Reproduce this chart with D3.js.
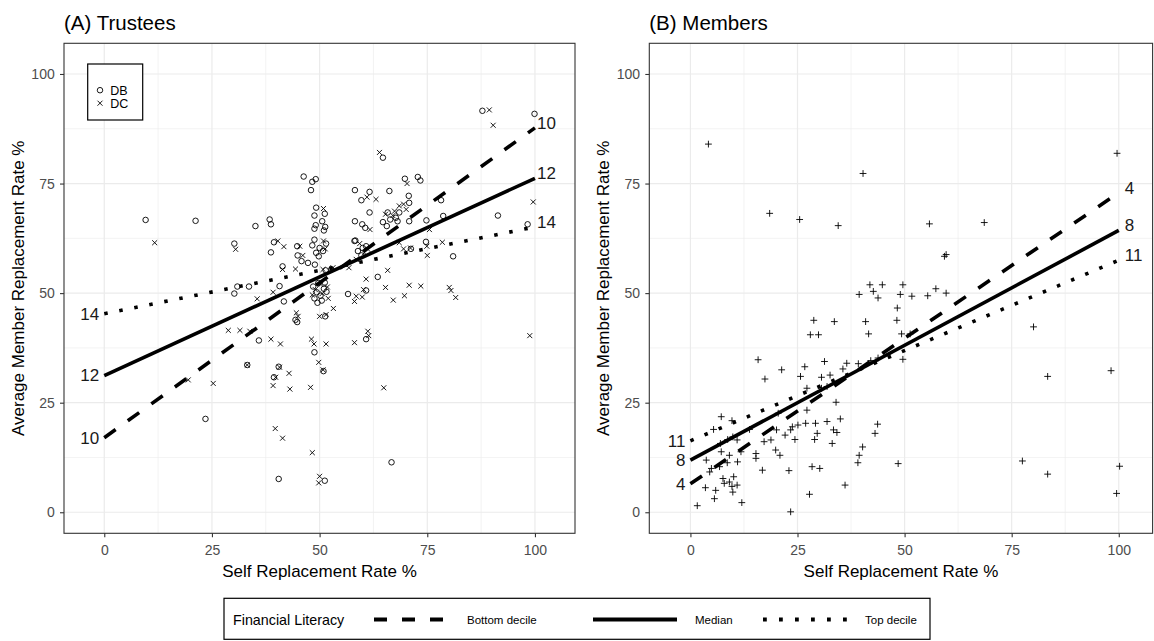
<!DOCTYPE html>
<html>
<head>
<meta charset="utf-8">
<script src="https://cdn.jsdelivr.net/npm/d3@7"></script>
<style>
  body { margin: 0; background: #fff; }
  svg { display: block; font-family: "Liberation Sans", Arial, Helvetica, sans-serif; }
</style>
</head>
<body>
<script>
// ---- data ----
const xTicks = [0, 25, 50, 75, 100]
const yTicks = [0, 25, 50, 75, 100]
const minorTicks = [12.5, 37.5, 62.5, 87.5]

const fitLevels = ['Bottom decile', 'Median', 'Top decile']

const trusteeFitLabels = ['10', '12', '14']
const trusteeFitAt0 = [17.0, 31.2, 45.3]
const trusteeFitAt100 = [87.7, 76.2, 65.1]

const memberFitLabels = ['4', '8', '11']
const memberFitAt0 = [6.5, 11.9, 16.3]
const memberFitAt100 = [72.9, 64.3, 57.5]

const schemeTypes = ['DB', 'DC']

const trusteeDB = [
  [9.6,66.7],[21.2,66.5],[35.1,65.3],[38.4,66.8],[38.7,65.7],[30.2,61.3],[38.7,59.3],[39.4,61.6],[44.8,60.7],[44.9,58.6],
  [45.8,57.3],[47.3,56.9],[48.9,56.5],[41.4,56.1],[30.9,51.5],[33.6,51.5],[40.7,51.6],[30.2,49.9],[41.7,48.1],
  [46.3,76.6],[48.3,75.4],[49.1,76],[48,73.5],[58.2,73.5],[58.2,66.4],[58.3,62],
  [87.8,91.6],[99.9,90.9],[64.7,80.9],[61.6,73.1],[59.7,71.2],[66.2,73.3],[69.8,76.1],[72.8,76.5],[73.4,75.7],[70.7,72.2],
  [70.8,70.6],[61.6,68.4],[78.2,71.2],[78.7,67.6],[74.8,66.6],[91.4,67.7],[98.3,65.7],[74.7,61.7],[81,58.4],[71.2,60.1],[63.5,53.7],
  [44.4,43.9],[44.8,43.4],[51.3,44.7],[56.6,49.8],[35.9,39.2],[48.8,36.5],[50.9,32.2],[33.2,33.6],[39.4,30.8],[40.5,33.2],
  [23.5,21.3],[40.5,7.6],[51.2,7.2],[60.8,50.6],[60.8,39.5],[66.7,11.4],
  [49.2,69.5],[48.8,67.7],[51.2,68.1],[50.6,66.4],[49.1,65.5],[51.3,65.1],[51,64.3],[48.8,64.7],[48.8,62.2],[51.5,61.3],
  [48.3,60.9],[50,60.3],[49.2,59.2],[50.8,59.6],[49.8,58.4],[59.9,65.7],[60.6,64.9],
  [64.7,66.2],[65.8,68.4],[66.4,66.8],[67.7,67.2],[68.1,66.4],[68.5,68.4],[65.6,65.3],[70.8,66.4],
  [58.1,61.9],[60,60.3],[60.8,60.7],[58.9,59.6],[59.7,58.6],
  [48.5,51.5],[49.3,50.2],[50.2,49.4],[51,51],[49.7,52.3],[48.8,48.8],[51.6,50.3],[50.5,48.3],[49.5,47.8],[51.2,52.4],
  [52.7,55.4],[51.4,55.2]
]

const trusteeDC = [
  [11.7,61.5],[30.5,60],[40.3,61.9],[41.7,60.6],[46.1,58.6],[41.4,55.4],[44.4,55.5],[45.4,60.7],
  [89.4,91.8],[90.3,88.3],[63.9,82.1],[61,71.9],[63.1,71.4],[70.3,75],[68.5,69.9],[69.5,70.3],[75.5,64.5],[99.6,70.8],
  [74.9,60.7],[75,58.6],[78.5,61.6],[71.1,60.3],[68.5,61.5],[69.5,60.1],[56.8,55.8],[60.8,53.2],[65.8,55.2],[70.8,51.8],
  [73.5,51.6],[80.1,51.3],[65.3,51.3],
  [39.2,50.2],[35.5,48.7],[44.6,45.5],[45,44.7],[50,44.7],[53.2,46.5],[58.1,48.1],[28.8,41.5],[31.5,41.5],[33.8,41.3],
  [38.7,39.5],[40.9,38.4],[48.1,39.5],[48.7,38.4],[51.5,38.4],[58.1,38.7],[49.8,34.2],[50.8,32.5],[33.2,33.6],[39.8,30.8],
  [40.7,33.1],[42.9,31.7],[39.2,28.9],[43.1,28.1],[47.9,28.5],[25.3,29.4],[19.5,30.2],[39.7,19.1],[41.4,16.9],[48.3,13.6],
  [50,8.2],[49.8,6.7],
  [58.5,49.3],[59.9,49.1],[60.2,50.8],[67.1,48.4],[69.7,49.4],[81.6,49],[80.5,50.6],[61.2,41.3],[61.4,40.3],[64.9,28.4],[98.8,40.3],
  [50.9,69.3],[50.9,61.9],[51.3,60.1],[61.7,64.5],[51.5,45.1],[50.8,55.4],[53.1,55.8],
  [65.3,68],[67,67.7],[67.4,68.7],[70.1,69.1],[59.3,61.3],[60.4,59.2],[61.2,60],[58.5,57.7],
  [49,50.8],[50.6,49.9],[51.8,51.4],[48.3,49.6],[50.3,52],[52,48.8]
]

const memberPoints = [
  [1.6,1.5],[5.6,3.1],[5.9,5],[3.5,5.6],[7.9,6.6],[7.6,7.7],[9.9,4.6],[9.7,5.9],[9.1,6.9],[10.1,8.1],[10.9,6.2],[12,2.2],
  [3.7,11.9],[4.9,10],[4.5,9.2],[6.8,10.4],[8.6,11.3],[9.1,13],[11,11.5],[11.8,13.8],[7.2,13.8],[7,15.7],[8.7,16.6],
  [10.9,16.5],[9.9,17.2],[5.4,18.9],[7.2,21.8],[9.7,20.9],[15.3,13.4],[15.3,12.3],[13.8,18.9],[15.8,34.8],[17.4,30.4],
  [21.3,32.5],[16.8,9.6],[17.2,16.1],[18.8,16.5],[20.1,18.8],[19.9,14.2],[20.9,13],[23,9.5],[23.4,0.1],[22.1,17.6],
  [23.4,18.8],[23.8,19.5],[25.1,19.9],[24.4,16.6],[26.9,20.3],[29.2,20.3],[29.6,18],[29,16.6],[27.2,23.3],[20.5,22.6],
  [25.7,31],[26.7,33.2],[27.2,28.3],[28.4,10.4],[30.2,10],[27.8,4.1],[31.9,20.7],[33.4,18.8],[34.2,18.2],[33.1,15.7],
  [35,21.3],[34,25.1],[30.6,30.8],[32.6,31.3],[31.3,34.4],[30.6,28.3],[31.9,28.7],[28.8,43.8],[33.6,43.5],[28,40.5],
  [29.9,40.5],[36.1,6.2],[36.5,34],[35.6,32.7],[39.2,33.9],[40.9,43.5],[39.4,49.7],[41.9,51.9],[42.7,50.4],[43.8,48.9],
  [44.8,51.9],[41.6,40.7],[39.1,11.3],[39.4,13],[40.2,14.9],[43.1,18],[43.7,20.1],[48.5,11.1],[49.6,51.9],[49,49.7],
  [48.3,46.6],[48.2,43.8],[49.3,40.7],[49.6,34.9],[42.1,34.6],[43.8,35.2],
  [99.6,81.9],[55.8,65.8],[68.6,66.1],[59.3,58.4],[59.7,58.8],[51.7,49.3],[55.4,49.4],[57.3,51],[59.7,50],[51.3,40.7],
  [80.1,42.3],[83.4,31],[98.2,32.3],[77.5,11.7],[83.4,8.7],[100.2,10.5],[99.5,4.3],
  [4.2,84],[40.3,77.3],[18.5,68.2],[25.5,66.8],[34.5,65.4]
]

// ---- layout ----
const width = 1154
const height = 641
const plot = { top: 43.3, bottom: 533.3 }
const yDomain = [-4.8, 107]
const fitDash = ['14,15', null, '3.5,11.8']
const fitWidth = 3.6

const svg = d3.select('body').append('svg')
  .attr('width', width)
  .attr('height', height)

const panels = [
  {
    title: '(A) Trustees', x0: 64, x1: 575, xDomain: [-9.35, 109.3], labelDx: 2,
    groups: [
      { pts: trusteeDB, shape: d3.symbolCircle, size: 24 },
      { pts: trusteeDC, shape: d3.symbolTimes, size: 18 }
    ],
    fitLabels: trusteeFitLabels, at0: trusteeFitAt0, at100: trusteeFitAt100, inset: true
  },
  {
    title: '(B) Members', x0: 649.3, x1: 1152.6, xDomain: [-9.6, 107.9], labelDx: 6,
    groups: [
      { pts: memberPoints, shape: d3.symbolPlus, size: 17 }
    ],
    fitLabels: memberFitLabels, at0: memberFitAt0, at100: memberFitAt100, inset: false
  }
]

panels.forEach(drawPanel)
drawLegend()

function styleAxis(sel) {
  sel.attr('font-family', null).attr('font-size', 14)
  sel.select('.domain').remove()
  sel.selectAll('.tick line').attr('stroke', '#333333').attr('stroke-width', 1.1)
  sel.selectAll('.tick text').attr('fill', '#4d4d4d')
}

function drawPanel(p) {
  const x = d3.scaleLinear().domain(p.xDomain).range([p.x0, p.x1])
  const y = d3.scaleLinear().domain(yDomain).range([plot.bottom, plot.top])
  const g = svg.append('g')

  // grid, minor then major
  const grid = g.append('g')
  grid.selectAll('.vminor').data(minorTicks).enter().append('line')
    .attr('x1', d => x(d)).attr('x2', d => x(d))
    .attr('y1', plot.top).attr('y2', plot.bottom)
    .attr('stroke', '#ebebeb').attr('stroke-width', 0.6)
  grid.selectAll('.hminor').data(minorTicks).enter().append('line')
    .attr('y1', d => y(d)).attr('y2', d => y(d))
    .attr('x1', p.x0).attr('x2', p.x1)
    .attr('stroke', '#ebebeb').attr('stroke-width', 0.6)
  grid.selectAll('.vmajor').data(xTicks).enter().append('line')
    .attr('x1', d => x(d)).attr('x2', d => x(d))
    .attr('y1', plot.top).attr('y2', plot.bottom)
    .attr('stroke', '#ebebeb').attr('stroke-width', 1.2)
  grid.selectAll('.hmajor').data(yTicks).enter().append('line')
    .attr('y1', d => y(d)).attr('y2', d => y(d))
    .attr('x1', p.x0).attr('x2', p.x1)
    .attr('stroke', '#ebebeb').attr('stroke-width', 1.2)

  // points
  p.groups.forEach(grp => {
    g.append('g').selectAll('path')
      .data(grp.pts)
      .enter()
      .append('path')
      .attr('d', d3.symbol(grp.shape, grp.size))
      .attr('transform', d => `translate(${x(d[0])},${y(d[1])})`)
      .attr('fill', 'none')
      .attr('stroke', '#000')
      .attr('stroke-width', 0.9)
  })

  // fitted lines
  const line = d3.line().x(d => x(d[0])).y(d => y(d[1]))
  fitLevels.forEach((lvl, i) => {
    g.append('path')
      .datum([[0, p.at0[i]], [100, p.at100[i]]])
      .attr('d', line)
      .attr('fill', 'none')
      .attr('stroke', '#000')
      .attr('stroke-width', fitWidth)
      .attr('stroke-dasharray', fitDash[i])

    g.append('text')
      .attr('x', x(0) - 5)
      .attr('y', y(p.at0[i]))
      .attr('dy', '0.35em')
      .attr('text-anchor', 'end')
      .attr('font-size', 17)
      .attr('fill', '#1a1a1a')
      .text(p.fitLabels[i])

    g.append('text')
      .attr('x', x(100) + p.labelDx)
      .attr('y', y(p.at100[i]) - 5)
      .attr('dy', '0.35em')
      .attr('font-size', 17)
      .attr('fill', '#1a1a1a')
      .text(p.fitLabels[i])
  })

  // border
  g.append('rect')
    .attr('x', p.x0).attr('y', plot.top)
    .attr('width', p.x1 - p.x0).attr('height', plot.bottom - plot.top)
    .attr('fill', 'none').attr('stroke', '#333333').attr('stroke-width', 1.1)

  // axes
  g.append('g')
    .attr('transform', `translate(0,${plot.bottom})`)
    .call(d3.axisBottom(x).tickValues(xTicks).tickSize(4).tickPadding(7.8))
    .call(styleAxis)
  g.append('g')
    .attr('transform', `translate(${p.x0},0)`)
    .call(d3.axisLeft(y).tickValues(yTicks).tickSize(4).tickPadding(5.3))
    .call(styleAxis)

  // titles
  g.append('text')
    .attr('x', p.x0).attr('y', 30)
    .attr('font-size', 20.5)
    .text(p.title)
  g.append('text')
    .attr('x', (p.x0 + p.x1) / 2).attr('y', 577)
    .attr('text-anchor', 'middle')
    .attr('font-size', 17)
    .text('Self Replacement Rate %')
  g.append('text')
    .attr('transform', `translate(${p.x0 - 40},${(plot.top + plot.bottom) / 2}) rotate(-90)`)
    .attr('text-anchor', 'middle')
    .attr('font-size', 17)
    .text('Average Member Replacement Rate %')

  // DB / DC key inside panel A
  if (p.inset) {
    const k = g.append('g').attr('transform', `translate(${p.x0 + 23.7},64)`)
    k.append('rect').attr('width', 55).attr('height', 56)
      .attr('fill', '#fff').attr('stroke', '#000').attr('stroke-width', 1.2)
    schemeTypes.forEach((t, i) => {
      const grp = p.groups[i]
      k.append('path')
        .attr('d', d3.symbol(grp.shape, grp.size))
        .attr('transform', `translate(12.3,${26.2 + i * 13})`)
        .attr('fill', 'none').attr('stroke', '#000').attr('stroke-width', 0.9)
      k.append('text')
        .attr('x', 22.5).attr('y', 26.2 + i * 13)
        .attr('dy', '0.35em')
        .attr('font-size', 12.5)
        .text(t)
    })
  }
}

function drawLegend() {
  const lg = svg.append('g')
  const cy = 619.5
  lg.append('rect')
    .attr('x', 224).attr('y', 598.3)
    .attr('width', 706).attr('height', 41)
    .attr('fill', '#fff').attr('stroke', '#000').attr('stroke-width', 1.2)
  lg.append('text')
    .attr('x', 233).attr('y', cy)
    .attr('dy', '0.35em')
    .attr('font-size', 14.3)
    .text('Financial Literacy')

  const keyX = [374, 593, 763]
  const labelX = [467, 695, 865]
  fitLevels.forEach((lvl, i) => {
    lg.append('line')
      .attr('x1', keyX[i]).attr('x2', keyX[i] + 84)
      .attr('y1', cy).attr('y2', cy)
      .attr('stroke', '#000').attr('stroke-width', 3.8)
      .attr('stroke-dasharray', i === 0 ? '13,15' : i === 2 ? '3.8,12.2' : null)
    lg.append('text')
      .attr('x', labelX[i]).attr('y', cy)
      .attr('dy', '0.35em')
      .attr('font-size', 11.5)
      .text(lvl)
  })
}
</script>
</body>
</html>
